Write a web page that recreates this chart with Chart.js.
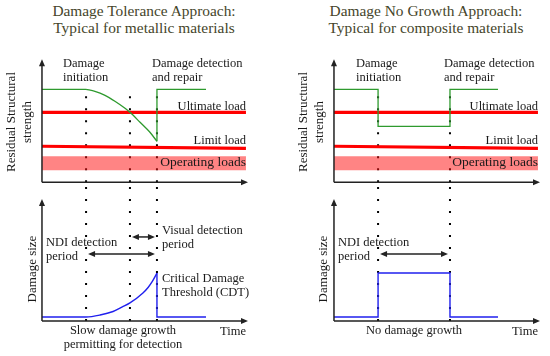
<!DOCTYPE html>
<html>
<head>
<meta charset="utf-8">
<script src="https://cdn.jsdelivr.net/npm/chart.js@4/dist/chart.umd.min.js"></script>
<style>
  html, body { margin: 0; padding: 0; background: #ffffff; }
  #wrap { position: relative; width: 550px; height: 356px; overflow: hidden; background: #fff; }
  canvas { position: absolute; }
  .t { position: absolute; font-family: "Liberation Serif", "DejaVu Serif", serif; font-size: 12.5px; line-height: 14px; color: #1a1a1a; white-space: nowrap; }
  .title { position: absolute; font-family: "Liberation Serif", serif; font-size: 15.4px; line-height: 17px; color: #45452a; text-align: center; white-space: nowrap; }
  .rot { position: absolute; font-family: "Liberation Serif", serif; font-size: 13px; line-height: 16px; color: #1a1a1a; white-space: nowrap; text-align: center; transform: translate(-50%, -50%) rotate(-90deg); }
</style>
</head>
<body>
<div id="wrap">
  <canvas id="tl" width="218" height="132" style="left:36px; top:54px;"></canvas>
  <canvas id="bl" width="218" height="140" style="left:36px; top:184px;"></canvas>
  <canvas id="tr" width="218" height="132" style="left:328px; top:54px;"></canvas>
  <canvas id="br" width="218" height="140" style="left:328px; top:184px;"></canvas>

  <div class="title" style="left:44px; width:200px; top:2px;">Damage Tolerance Approach:<br>Typical for metallic materials</div>
  <div class="title" style="left:326px; width:200px; top:2px;">Damage No Growth Approach:<br>Typical for composite materials</div>

  <div class="t" style="left:63px; top:56px;">Damage<br>initiation</div>
  <div class="t" style="left:152px; top:56px;">Damage detection<br>and repair</div>
  <div class="t" style="right:304px; top:99px;">Ultimate load</div>
  <div class="t" style="right:304px; top:133px;">Limit load</div>
  <div class="t" style="right:304px; top:155px; font-size:13.5px;">Operating loads</div>

  <div class="t" style="left:356px; top:56px;">Damage<br>initiation</div>
  <div class="t" style="left:444px; top:56px;">Damage detection<br>and repair</div>
  <div class="t" style="right:12px; top:99px;">Ultimate load</div>
  <div class="t" style="right:12px; top:133px;">Limit load</div>
  <div class="t" style="right:12px; top:155px; font-size:13.5px;">Operating loads</div>

  <div class="t" style="left:162px; top:223px;">Visual detection<br>period</div>
  <div class="t" style="left:46px; top:235px;">NDI detection<br>period</div>
  <div class="t" style="left:162px; top:271px;">Critical Damage<br>Threshold (CDT)</div>
  <div class="t" style="left:63px; width:120px; text-align:center; top:323px;">Slow damage growth<br>permitting for detection</div>
  <div class="t" style="left:220px; top:324px;">Time</div>

  <div class="t" style="left:338px; top:235px;">NDI detection<br>period</div>
  <div class="t" style="left:354px; width:120px; text-align:center; top:323px;">No damage growth</div>
  <div class="t" style="left:512px; top:324px;">Time</div>

  <div class="rot" style="left:19px; top:122px;">Residual Structural<br>strength</div>
  <div class="rot" style="left:311px; top:122px;">Residual Structural<br>strength</div>
  <div class="rot" style="left:32px; top:269px;">Damage size</div>
  <div class="rot" style="left:323px; top:269px;">Damage size</div>
</div>

<script>
// ---------- DATA (time in arbitrary units 0..10; strength / damage size in % of axis) ----------
const axisTimeMax = 10;
const axisValueMax = 100;

// marker times (dotted vertical lines)
const leftMarkerTimes  = [2.14, 4.27, 5.58];   // damage initiation, visual-detectable, detection & repair
const rightMarkerTimes = [2.14, 5.63];         // damage initiation, detection & repair
const markerTopStrength = 75.6;
const markerTopDamage   = 110;

// load levels
const ultimateTimes = [0, 9.9];
const ultimateLoad  = [56.9, 56.9];
const limitTimes    = [0, 9.9];
const limitLoad     = [29.3, 27.6];
const operatingTimes = [0, 9.9];
const operatingLow  = 9.8;
const operatingHigh = [21.1, 21.1];

// Damage tolerance: residual strength
const dtFlatTimes     = [0, 2.14];
const dtFlatStrength  = [75.6, 75.6];
const dtCurveTimes    = [2.14, 2.57, 3.06, 3.54, 4.03, 4.27, 4.76, 5.24, 5.58];
const dtCurveStrength = [75.6, 74.0, 70.7, 65.9, 60.2, 56.9, 48.8, 40.7, 33.3];
const dtRepairTimes    = [5.58, 5.58, 7.96];
const dtRepairStrength = [33.3, 75.6, 75.6];

// Damage tolerance: damage size
const dtSizeTimes = [0, 2.14, 2.82, 3.45, 3.90, 4.27, 4.90, 5.15, 5.34, 5.58];
const dtSize      = [3.3, 3.3, 4.9, 7.8, 11.5, 14.8, 23.0, 27.5, 32.0, 39.3];
const dtSizeDropTimes = [5.58, 5.58, 7.96];
const dtSizeDrop      = [39.3, 3.3, 3.3];

// Damage no growth: residual strength
const ngStrengthTimes = [0, 2.14, 2.14, 5.63, 5.63, 7.96];
const ngStrength      = [75.6, 75.6, 45.5, 45.5, 75.6, 75.6];

// Damage no growth: damage size
const ngSizeTimes = [0, 2.14, 2.14, 5.63, 5.63, 7.96];
const ngSize      = [3.3, 3.3, 39.3, 39.3, 3.3, 3.3];

// period arrows (damage-size units)
const leftNdiArrow    = { y: 54.9, from: 2.14, to: 5.58 };
const leftVisualArrow = { y: 68.9, from: 4.27, to: 5.58 };
const rightNdiArrow   = { y: 54.9, from: 2.14, to: 5.63 };

// ---------- helpers ----------
const pts = (xs, ys) => xs.map((x, i) => ({ x, y: ys[i] }));
const GREEN = '#2e9a2e', BLUE = '#2020ee', RED = '#ff0000';

function lineDs(data, color, width, order, extra) {
  return Object.assign({ data, borderColor: color, borderWidth: width, pointRadius: 0, tension: 0, fill: false, order }, extra || {});
}
function dotted(times, top) {
  return times.map(t => lineDs(pts([t, t], [0, top]), '#000', 2, 10, { borderDash: [2, 10], borderCapStyle: 'butt' }));
}

const axesPlugin = {
  id: 'axesArrows',
  afterDatasetsDraw(chart) {
    const o = chart.options.plugins.axesArrows || {};
    const ctx = chart.ctx, xs = chart.scales.x, ys = chart.scales.y;
    const x0 = xs.getPixelForValue(0), y0 = ys.getPixelForValue(0);
    const xe = xs.getPixelForValue(axisTimeMax), ye = ys.getPixelForValue(axisValueMax);
    ctx.save();
    ctx.strokeStyle = '#222'; ctx.fillStyle = '#222'; ctx.lineWidth = 1.5;
    ctx.beginPath(); ctx.moveTo(x0, y0); ctx.lineTo(x0, ye + 4); ctx.moveTo(x0, y0); ctx.lineTo(xe - 4, y0); ctx.stroke();
    ctx.beginPath(); ctx.moveTo(x0, ye); ctx.lineTo(x0 - 3, ye + 7); ctx.lineTo(x0 + 3, ye + 7); ctx.closePath(); ctx.fill();
    ctx.beginPath(); ctx.moveTo(xe, y0); ctx.lineTo(xe - 7, y0 - 3); ctx.lineTo(xe - 7, y0 + 3); ctx.closePath(); ctx.fill();
    (o.arrows || []).forEach(a => {
      const y = ys.getPixelForValue(a.y), x1 = xs.getPixelForValue(a.from) + 2, x2 = xs.getPixelForValue(a.to) - 2;
      ctx.lineWidth = 1.5;
      ctx.beginPath(); ctx.moveTo(x1 + 4, y); ctx.lineTo(x2 - 4, y); ctx.stroke();
      ctx.beginPath(); ctx.moveTo(x1, y); ctx.lineTo(x1 + 7, y - 3); ctx.lineTo(x1 + 7, y + 3); ctx.closePath(); ctx.fill();
      ctx.beginPath(); ctx.moveTo(x2, y); ctx.lineTo(x2 - 7, y - 3); ctx.lineTo(x2 - 7, y + 3); ctx.closePath(); ctx.fill();
    });
    ctx.restore();
  }
};

function makePanel(id, datasets, yMin, yMax, arrows) {
  return new Chart(document.getElementById(id), {
    type: 'line',
    data: { datasets },
    options: {
      responsive: false, animation: false, devicePixelRatio: 1,
      layout: { padding: 0 },
      scales: {
        x: { type: 'linear', display: false, min: -0.29, max: 10.29 },
        y: { type: 'linear', display: false, min: yMin, max: yMax }
      },
      plugins: { legend: { display: false }, tooltip: { enabled: false }, axesArrows: { arrows: arrows || [] } }
    },
    plugins: [axesPlugin]
  });
}

function strengthLoads() {
  return [
    lineDs(pts(operatingTimes, operatingHigh), 'rgba(0,0,0,0)', 0, 6, { fill: { value: operatingLow }, backgroundColor: 'rgba(255,20,20,0.52)' }),
    lineDs(pts(ultimateTimes, ultimateLoad), RED, 3.2, 3),
    lineDs(pts(limitTimes, limitLoad), RED, 3.2, 3)
  ];
}

const smooth = { cubicInterpolationMode: 'monotone' };

// top-left: damage tolerance strength
makePanel('tl', [
  ...dotted(leftMarkerTimes, markerTopStrength),
  ...strengthLoads(),
  lineDs(pts(dtFlatTimes, dtFlatStrength), GREEN, 1.3, 1),
  lineDs(pts(dtCurveTimes, dtCurveStrength), GREEN, 1.3, 1, smooth),
  lineDs(pts(dtRepairTimes, dtRepairStrength), GREEN, 1.3, 1)
], -3, 104.32);

// bottom-left: damage tolerance size
makePanel('bl', [
  ...dotted(leftMarkerTimes, markerTopDamage),
  lineDs(pts(dtSizeTimes, dtSize), BLUE, 1.4, 1, smooth),
  lineDs(pts(dtSizeDropTimes, dtSizeDrop), BLUE, 1.4, 1)
], -2.46, 112.3, [leftNdiArrow, leftVisualArrow]);

// top-right: no growth strength
makePanel('tr', [
  ...dotted(rightMarkerTimes, markerTopStrength),
  ...strengthLoads(),
  lineDs(pts(ngStrengthTimes, ngStrength), GREEN, 1.3, 1)
], -3, 104.32);

// bottom-right: no growth size
makePanel('br', [
  ...dotted(rightMarkerTimes, markerTopDamage),
  lineDs(pts(ngSizeTimes, ngSize), BLUE, 1.4, 1)
], -2.46, 112.3, [rightNdiArrow]);
</script>
</body>
</html>
